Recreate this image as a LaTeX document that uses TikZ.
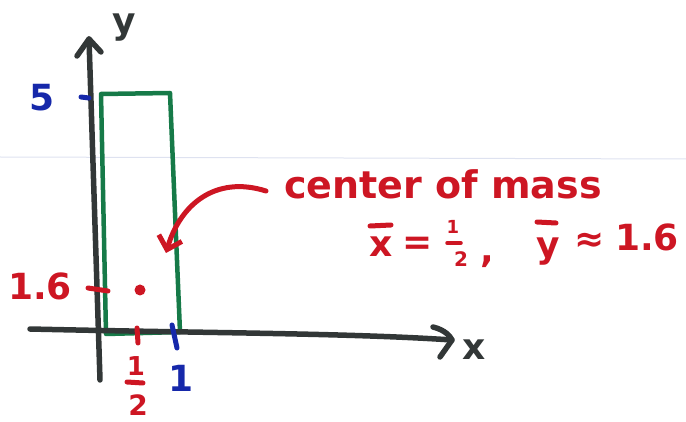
\documentclass[tikz,border=0pt]{standalone}
\usepackage{fontspec}
\setmainfont{DejaVu Sans}
\usetikzlibrary{arrows.meta}
\definecolor{pred}{RGB}{205,22,35}
\definecolor{pgreen}{RGB}{22,122,72}
\definecolor{pblue}{RGB}{22,40,170}
\definecolor{pblack}{RGB}{50,55,55}
\definecolor{pfaint}{RGB}{222,226,240}
\tikzset{
  axis/.style={pblack, line width=5.5pt, line cap=round, line join=round},
  rect/.style={pgreen, line width=4.5pt, line cap=round, line join=round},
  redtick/.style={pred, line width=5pt, line cap=round},
  bluetick/.style={pblue, line width=5pt, line cap=round},
  redtxt/.style={pred, font=\bfseries\fontsize{36}{38}\selectfont, inner sep=0pt},
  smallred/.style={pred, font=\bfseries\fontsize{24}{26}\selectfont, inner sep=0pt},
  bluetxt/.style={pblue, font=\bfseries\fontsize{36}{38}\selectfont, inner sep=0pt},
  blacktxt/.style={pblack, font=\bfseries\fontsize{36}{38}\selectfont, inner sep=0pt},
}
\begin{document}
\begin{tikzpicture}[x=1pt,y=-1pt]
\useasboundingbox (0,0) rectangle (686,422);
% faint paper edge
\draw[pfaint, line width=1pt] (0,157) -- (686,159);
% coordinates
\coordinate (ybot) at (100,380);
\coordinate (ytop) at (89,39);
\coordinate (xleft) at (30,329);
\coordinate (xright) at (452,340);
\coordinate (tl) at (101,94);
\coordinate (tr) at (170,93);
\coordinate (br) at (180,332);
\coordinate (bl) at (106,334);
% rectangle
\draw[rect] (tl) -- (tr) -- (br) -- (bl) -- cycle;
% axes
\draw[axis] (ybot) -- (ytop);
\draw[axis] (77,56) -- (ytop) -- (101,52);
\draw[axis] (xleft) .. controls (200,333) and (350,333) .. (xright);
\draw[axis] (433,327) .. controls (445,330) and (450,336) .. (xright) -- (440,357);
% labels
\node[blacktxt] (ylab) at (124,28) {y};
\node[blacktxt] (xlab) at (474,350) {x};
% y = 5
\node[bluetxt] (five) at (42,98) {5};
\draw[bluetick] (81,97) -- (89,98);
% 1.6
\node[redtxt] (onesix) at (40,286) {1.6};
\draw[redtick] (88,288) -- (108,291);
\node[circle, fill=pred, minimum size=11pt, inner sep=0pt] (cm) at (140,290) {};
% x = 1/2
\draw[redtick] (137,328) -- (138,343);
\node[smallred, font=\bfseries\fontsize{26}{28}\selectfont] (hnum) at (136,366) {1};
\draw[redtick] (127,382) -- (143,383);
\node[smallred, font=\bfseries\fontsize{28}{30}\selectfont] (hden) at (138,405) {2};
% x = 1
\draw[bluetick] (172,325) -- (177,348);
\node[bluetxt] (onelab) at (181,378) {1};
% annotation
\node[redtxt, font=\bfseries\fontsize{38}{40}\selectfont, anchor=west] (cmtext) at (284,184) {center of mass};
% equation
\node[redtxt] (xb) at (381,247) {x};
\draw[redtick] (370,226) -- (391,225);
\node[redtxt] (eq) at (418,246) {=};
\node[smallred, font=\bfseries\fontsize{18}{20}\selectfont] (fnum) at (453,227) {1};
\draw[pred, line width=3.5pt, line cap=round] (447,243) -- (461,243);
\node[smallred, font=\bfseries\fontsize{20}{22}\selectfont] (fden) at (461,259) {2};
\node[redtxt] (comma) at (487,262) {,};
\node[redtxt] (yb) at (548,252) {y};
\draw[redtick] (537,222) -- (556,223);
\node[redtxt] (approx) at (590,242) {≈};
\node[redtxt, anchor=west] (ysix) at (615,237) {1.6};
\draw[pred, line width=5pt, line cap=round, -{Straight Barb[length=12pt,width=24pt,line width=5pt]}] (266,191) .. controls (215,175) and (180,205) .. (166,253);
\end{tikzpicture}
\end{document}
